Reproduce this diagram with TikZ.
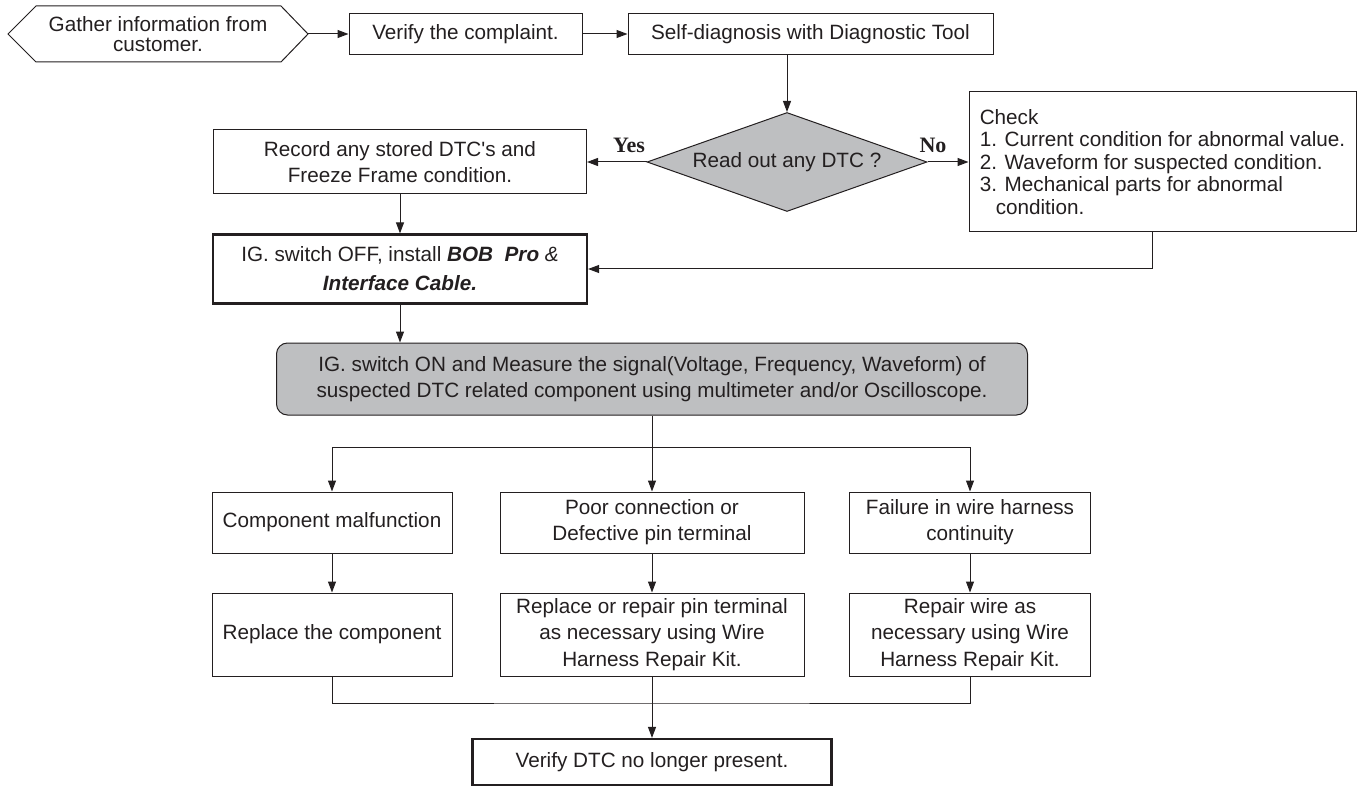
\documentclass[tikz,border=0pt]{standalone}
\usepackage{fontspec}
\setmainfont{Liberation Sans}
\newfontfamily\yesfont{Liberation Serif}
\usetikzlibrary{arrows.meta,shapes.geometric}
\definecolor{ink}{RGB}{35,31,32}
\definecolor{boxgray}{RGB}{190,191,193}
\begin{document}
\begin{tikzpicture}[x=1pt,y=-1pt,
  base/.style={draw=ink, line width=1pt, inner sep=0pt, align=center, text=ink,
    font=\fontsize{20.7}{26}\selectfont},
  heavybox/.style={base, line width=2.2pt},
  conn/.style={draw=ink, line width=1pt, -{Triangle[length=11pt,width=8pt]}},
  plain/.style={draw=ink, line width=1pt},
  lbl/.style={text=ink, inner sep=0pt, font=\yesfont\bfseries\fontsize{22}{22}\selectfont},
]
\useasboundingbox (0,0) rectangle (1357,786);

% start hexagon
\draw[plain] (8,34) -- (36,6) -- (281,6) -- (308,34) -- (281,62) -- (36,62) -- cycle;
\node[base, draw=none, font=\fontsize{20.7}{20}\selectfont] (gather) at (158,34) {Gather information from\\customer.};
\coordinate (gtip) at (308,34);

\node[base, minimum width=233pt, minimum height=41pt] (verify) at (465.5,34) {Verify the complaint.};
\node[base, minimum width=365pt, minimum height=41pt] (selfdiag) at (810.5,34) {Self-diagnosis with Diagnostic Tool};

\node[base, diamond, aspect=2.83, fill=boxgray, minimum width=280pt, minimum height=99pt] (dia) at (787,162) {Read out any DTC ?};

\node[base, minimum width=373pt, minimum height=64pt] (record) at (400,162) {Record any stored DTC\textquotesingle s and\\Freeze Frame condition.};

\node[base, align=left, minimum width=387pt, minimum height=140pt, font=\fontsize{20.7}{22.5}\selectfont] (check) at (1162.5,162)
  {Check\\1. Current condition for abnormal value.\\2. Waveform for suspected condition.\\3. Mechanical parts for abnormal\\\hspace*{16pt}condition.};

\node[lbl] (yes) at (629,145) {Yes};
\node[lbl] (no) at (933,145) {No};

\node[heavybox, minimum width=374pt, minimum height=69pt, font=\fontsize{20.7}{29}\selectfont] (igoff) at (400,269)
  {IG. switch OFF, install \textbf{\textit{BOB\ \ Pro}} \textit{\&}\\\textbf{\textit{Interface Cable.}}};

\node[base, fill=boxgray, rounded corners=11pt, minimum width=751pt, minimum height=72pt] (igon) at (652,379)
  {IG. switch ON and Measure the signal(Voltage, Frequency, Waveform) of\\suspected DTC related component using multimeter and/or Oscilloscope.};

\node[base, minimum width=240pt, minimum height=61pt] (comp) at (332,522.5) {Component malfunction};
\node[base, minimum width=304pt, minimum height=61pt] (poor) at (652,522.5) {Poor connection or\\Defective pin terminal};
\node[base, minimum width=241pt, minimum height=61pt] (fail) at (970,522.5) {Failure in wire harness\\continuity};

\node[base, minimum width=240pt, minimum height=83pt] (repl) at (332,634.5) {Replace the component};
\node[base, minimum width=304pt, minimum height=83pt, font=\fontsize{20.7}{26.5}\selectfont] (reppin) at (652,634.5) {Replace or repair pin terminal\\as necessary using Wire\\Harness Repair Kit.};
\node[base, minimum width=241pt, minimum height=83pt, font=\fontsize{20.7}{26.5}\selectfont] (repwire) at (970,634.5) {Repair wire as\\necessary using Wire\\Harness Repair Kit.};

\node[heavybox, minimum width=359pt, minimum height=46pt] (final) at (652,762) {Verify DTC no longer present.};

% connectors
\draw[conn] (gtip) -- (verify.west);
\draw[conn] (verify) -- (selfdiag);
\draw[conn] (selfdiag.south -| dia.north) -- (dia.north);
\draw[conn] (dia.west) -- (record.east);
\draw[conn] (dia.east) -- (check.west);
\draw[conn] (record.south) -- (igoff.north);
\coordinate (ckb) at (1152,232);
\draw[conn] (ckb) |- (igoff.east);
\draw[conn] (igoff.south) -- (igoff.south |- igon.north);
\draw[conn] (igon.south) -- (poor.north);
\coordinate (br) at (652,447);
\draw[conn] (br) -| (comp.north);
\draw[conn] (br) -| (fail.north);
\draw[conn] (comp) -- (repl);
\draw[conn] (poor) -- (reppin);
\draw[conn] (fail) -- (repwire);
\coordinate (mg) at (652,703);
\draw[plain] (repl.south) |- (mg) -| (repwire.south);
\draw[conn] (reppin.south) -- (final.north);
\end{tikzpicture}
\end{document}
